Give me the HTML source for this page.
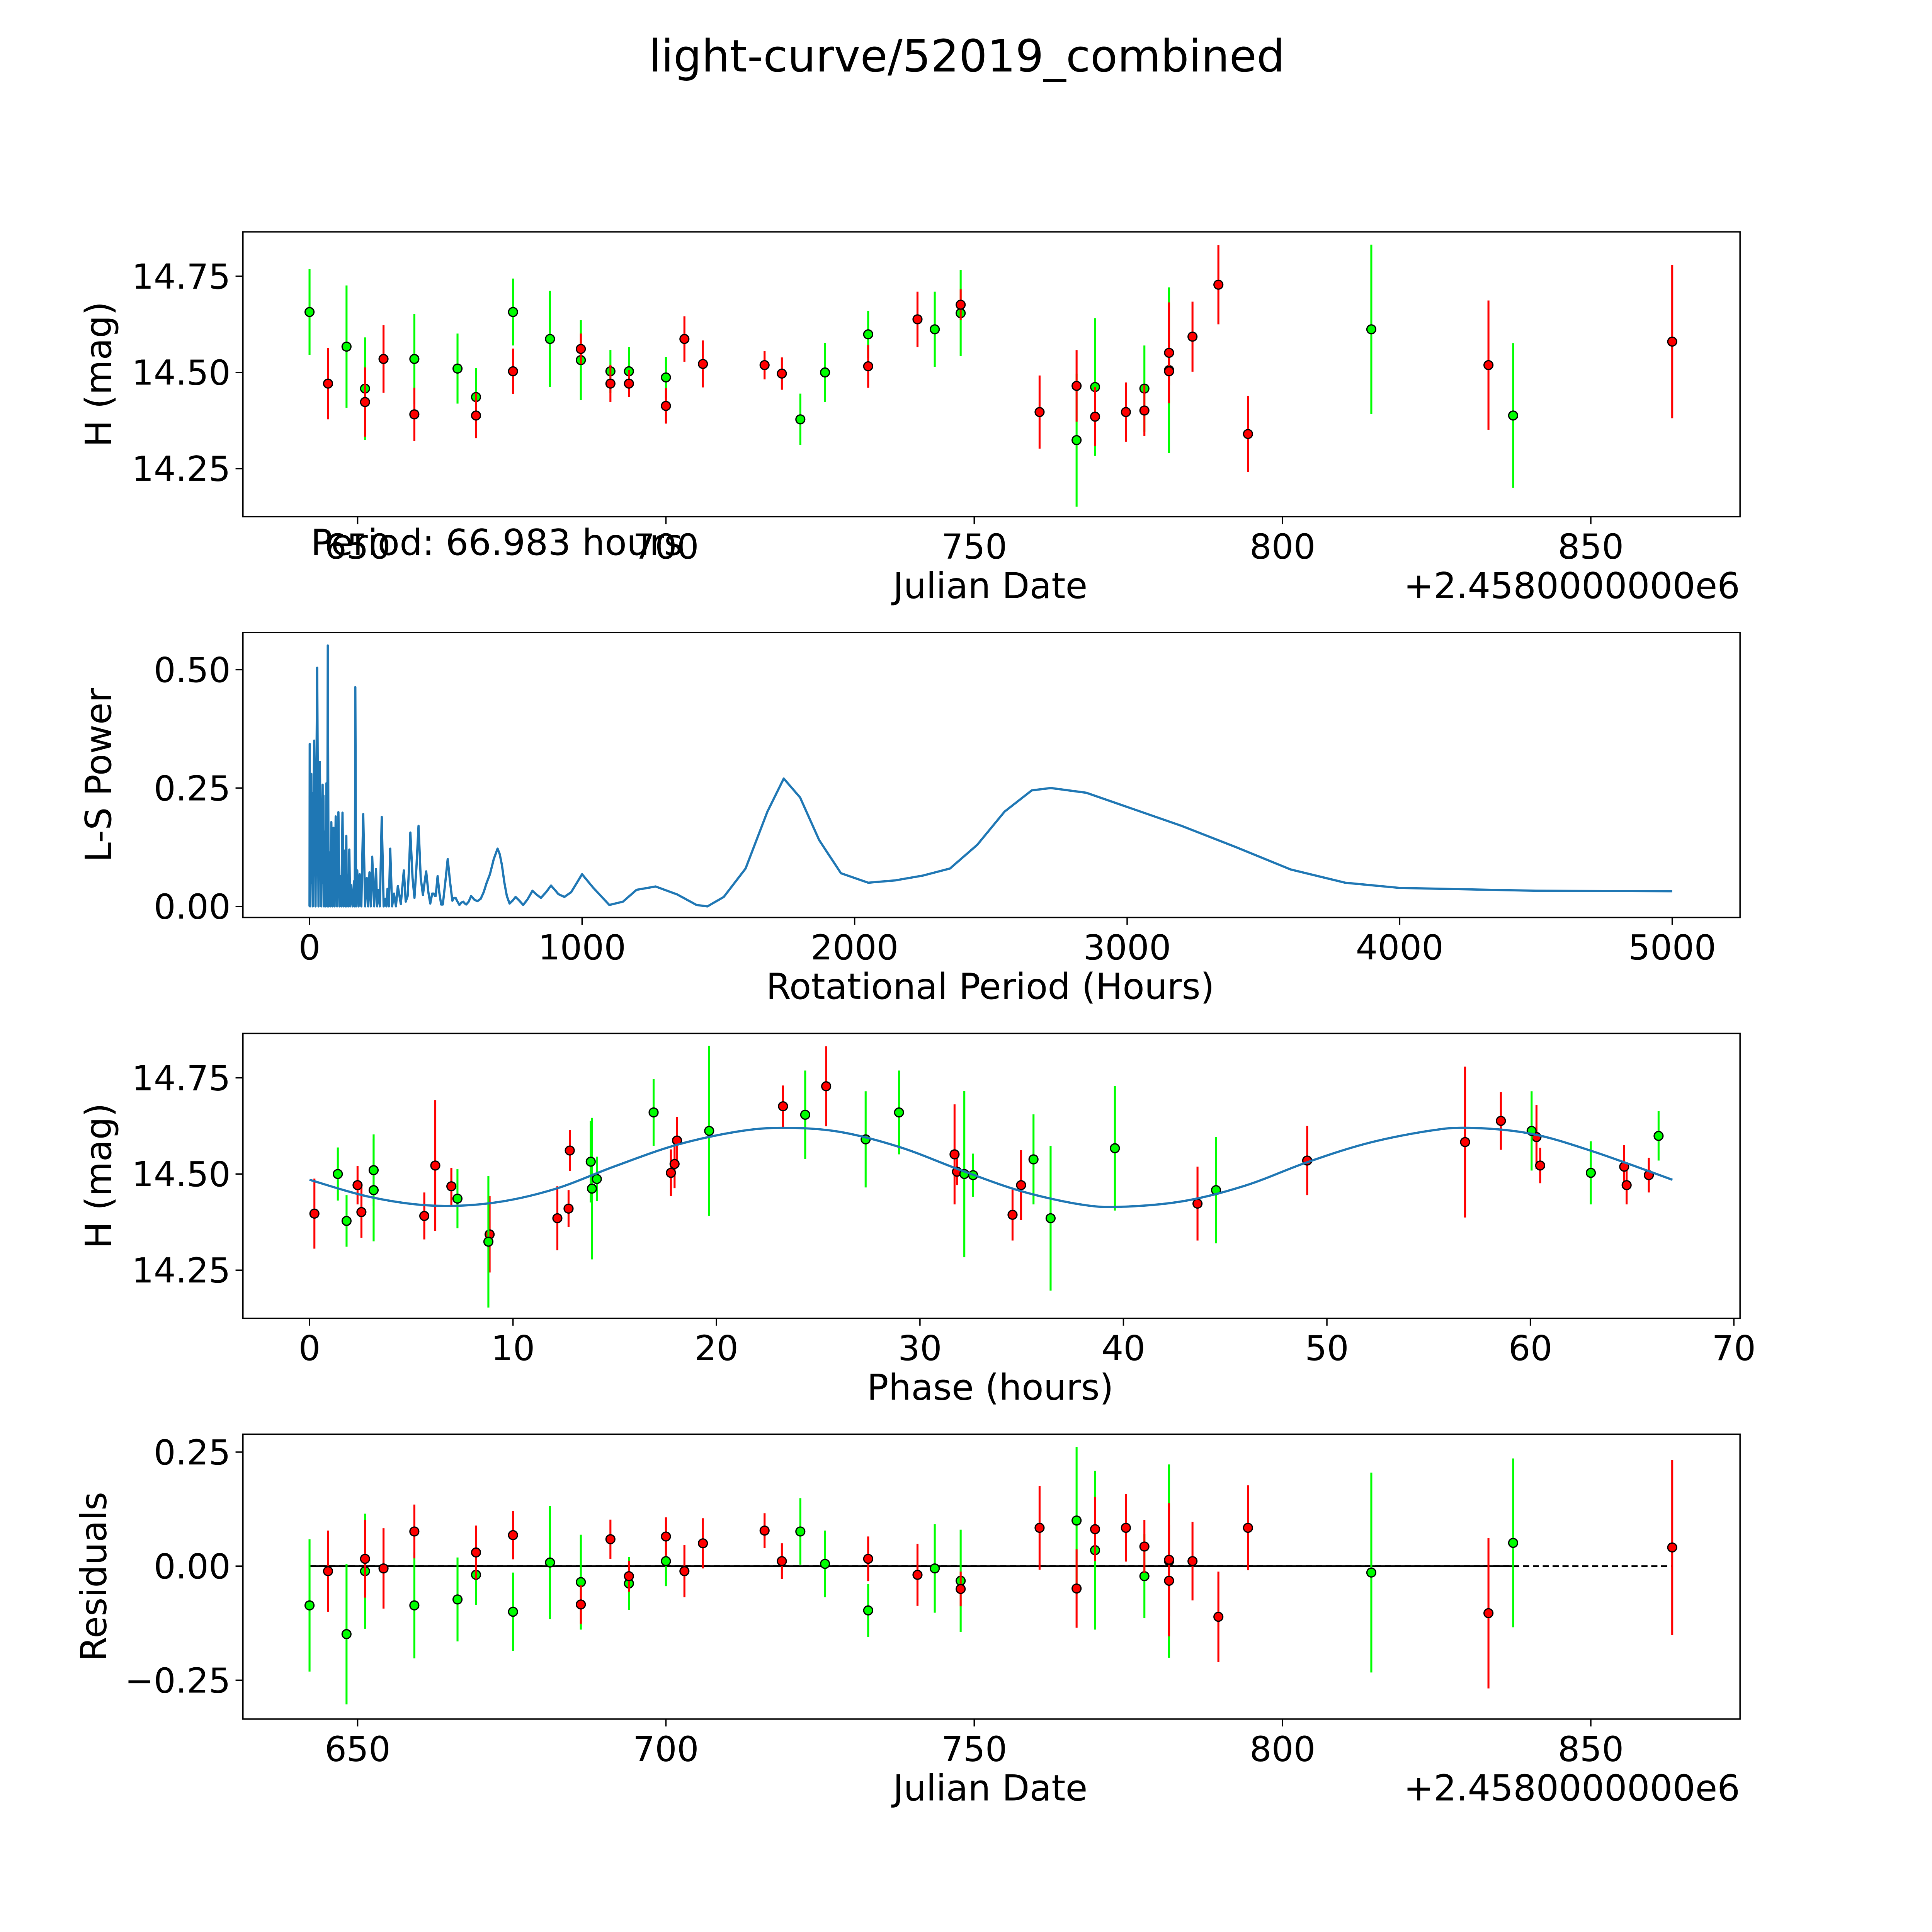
<!DOCTYPE html>
<html><head><meta charset="utf-8">
<style>
html,body{margin:0;padding:0;background:#fff;width:5400px;height:5400px;overflow:hidden;}
svg{display:block;position:absolute;left:0;top:0;overflow:hidden;}
text{font-family:"DejaVu Sans","Liberation Sans",sans-serif;fill:#000;}
</style></head>
<body>
<svg id="chart" xmlns="http://www.w3.org/2000/svg" width="5400" height="5400" viewBox="0 0 1692 1692">
<rect x="0" y="0" width="1692" height="1692" fill="#fff"/>
</svg>
<script>
// ---------- Panel 1: light curve (Julian date offset from 2458000) ----------
const greenJD  = [642.2,648.2,651.2,659.2,666.2,669.2,675.2,681.2,686.2,691,694,700,721.8,725.8,732.8,743.6,747.8,766.6,769.6,777.6,781.6,814.4,837.4];
const greenMag = [14.657,14.567,14.458,14.535,14.51,14.436,14.657,14.587,14.532,14.503,14.503,14.487,14.378,14.50,14.599,14.612,14.654,14.324,14.462,14.458,14.506,14.612,14.388];
const greenErr = [0.112,0.159,0.133,0.117,0.091,0.075,0.087,0.125,0.104,0.056,0.063,0.053,0.067,0.077,0.061,0.098,0.112,0.173,0.179,0.112,0.215,0.22,0.188];
const redJD  = [645.2,651.2,654.2,659.2,669.2,675.2,686.2,691,694,700,703,706,716,718.8,732.8,740.8,747.8,760.6,766.6,769.6,774.6,777.6,781.6,781.6,785.4,789.6,794.4,833.4,863.2];
const redMag = [14.471,14.423,14.535,14.391,14.388,14.503,14.561,14.471,14.471,14.413,14.587,14.522,14.519,14.497,14.516,14.638,14.676,14.397,14.465,14.385,14.397,14.401,14.551,14.503,14.593,14.728,14.34,14.519,14.58];
const redErr = [0.093,0.09,0.088,0.069,0.059,0.059,0.04,0.048,0.035,0.046,0.059,0.061,0.037,0.042,0.056,0.072,0.04,0.095,0.093,0.077,0.077,0.066,0.131,0.035,0.091,0.103,0.099,0.168,0.199];

// ---------- Panel 2: periodogram ----------
const lsPeriod = [0,0.7,2,4,6.6,7.5,8.4,12,17,22,28,33,38,43,48,49.5,51,53,55,58,62,65,67,70,73,76,80,84,88,92,96,101,106,110,114,117,121,125,130,132,135,137,139,142,146,149,152,158,163,166,168,171,175,180,184,190,197,204,210,215,220,225,230,237,244,248,252,258,265,272,279,282,286,291,296,303,310,317,324,335,346,353,360,365,370,378,385,392,400,408,416,422,428,436,443,450,456,460,463,470,476,483,489,498,507,516,524,530,536,543,550,557,564,570,575,584,593,605,616,628,639,650,662,676,690,698,706,715,724,734,745,756,770,784,800,818,833,849,868,886,900,913,935,960,1000,1040,1100,1150,1200,1270,1350,1420,1460,1520,1600,1680,1740,1800,1870,1950,2050,2150,2250,2350,2450,2550,2650,2720,2850,3000,3200,3400,3600,3800,4000,4500,5000];
const lsPower  = [0,0.343,0,0.1,0.28,0.05,0.24,0,0.35,0,0.504,0,0.305,0,0.257,0.05,0.234,0,0.158,0,0.26,0,0.551,0,0.114,0,0.178,0,0.166,0,0.19,0,0.199,0,0.064,0,0.198,0,0.118,0,0.149,0,0.029,0,0.12,0,0.045,0,0.053,0,0.463,0,0.076,0,0.068,0,0.195,0,0.06,0,0.072,0,0.105,0,0.079,0,0.035,0,0.189,0,0.016,0,0.037,0,0.122,0,0.027,0,0.043,0.005,0.076,0.01,0.022,0.08,0.156,0.06,0.018,0.08,0.17,0.06,0.024,0.05,0.074,0.03,0.006,0.027,0.027,0.022,0.022,0.064,0.03,0.004,0.004,0.05,0.1,0.05,0.012,0.018,0.018,0.01,0.003,0.008,0.01,0.006,0.004,0.01,0.022,0.014,0.011,0.016,0.03,0.05,0.068,0.1,0.122,0.11,0.087,0.05,0.022,0.006,0.012,0.02,0.012,0.003,0.015,0.033,0.025,0.018,0.03,0.044,0.035,0.026,0.02,0.03,0.068,0.04,0.003,0.01,0.035,0.042,0.025,0.003,0.0,0.02,0.08,0.2,0.27,0.23,0.14,0.07,0.05,0.055,0.065,0.08,0.13,0.2,0.245,0.25,0.24,0.21,0.17,0.125,0.078,0.05,0.039,0.033,0.032];

// ---------- Panel 3: phased light curve ----------
const redPhase = [0.24,2.36,2.55,5.64,6.18,6.97,8.85,12.18,12.73,12.79,17.76,17.94,18.06,23.27,25.39,31.7,31.82,34.55,34.97,43.64,49.03,56.79,58.55,60.3,60.48,64.61,64.73,65.82];
const redPhaseMag = [14.397,14.471,14.401,14.391,14.522,14.468,14.343,14.385,14.41,14.561,14.503,14.526,14.587,14.676,14.728,14.551,14.506,14.394,14.471,14.423,14.535,14.583,14.638,14.596,14.522,14.519,14.471,14.497];
const redPhaseErr = [0.091,0.05,0.067,0.061,0.17,0.048,0.099,0.083,0.048,0.053,0.061,0.063,0.061,0.054,0.104,0.13,0.035,0.067,0.091,0.096,0.09,0.196,0.075,0.083,0.046,0.056,0.05,0.045];
const greenPhase = [1.39,1.82,3.15,3.15,7.27,8.79,13.82,13.88,14.12,16.91,19.64,24.36,27.33,28.97,32.18,32.61,35.58,36.42,39.58,44.55,60.06,62.97,66.3];
const greenPhaseMag = [14.50,14.378,14.51,14.458,14.436,14.324,14.532,14.462,14.487,14.66,14.612,14.654,14.59,14.66,14.50,14.497,14.538,14.385,14.567,14.458,14.612,14.503,14.599];
const greenPhaseErr = [0.069,0.067,0.093,0.133,0.077,0.171,0.106,0.184,0.058,0.087,0.221,0.115,0.125,0.109,0.216,0.056,0.117,0.188,0.162,0.138,0.103,0.082,0.064];
const modelPhase = [0,3,6,9,12,15,18,21,23.3,26,29,32,35,38,40,43,46,49,52,55,57,60,63,66.98];
const modelMag   = [14.485,14.44,14.418,14.425,14.46,14.52,14.575,14.61,14.62,14.61,14.57,14.51,14.455,14.42,14.415,14.43,14.47,14.53,14.58,14.612,14.62,14.605,14.56,14.485];

// ---------- Panel 4: residuals ----------
const greenResJD  = [642.2,648.2,651.2,659.2,666.2,669.2,675.2,681.2,686.2,694,700,721.8,725.8,732.8,743.6,747.8,766.6,769.6,777.6,781.6,814.4,837.4];
const greenRes    = [-0.086,-0.149,-0.011,-0.086,-0.073,-0.019,-0.1,0.008,-0.035,-0.038,0.011,0.076,0.005,-0.097,-0.005,-0.032,0.1,0.035,-0.022,0.011,-0.014,0.051];
const greenResErr = [0.145,0.154,0.126,0.116,0.092,0.066,0.086,0.124,0.104,0.058,0.055,0.073,0.073,0.058,0.097,0.112,0.161,0.174,0.092,0.212,0.219,0.185];
const redResJD  = [645.2,651.2,654.2,659.2,669.2,675.2,686.2,691,694,700,703,706,716,718.8,732.8,740.8,747.8,760.6,766.6,769.6,774.6,777.6,781.6,781.6,785.4,789.6,794.4,833.4,863.2];
const redRes    = [-0.011,0.016,-0.005,0.076,0.03,0.068,-0.084,0.059,-0.022,0.065,-0.011,0.05,0.078,0.011,0.016,-0.019,-0.05,0.084,-0.049,0.081,0.084,0.043,0.014,-0.032,0.011,-0.111,0.084,-0.103,0.041];
const redResErr = [0.089,0.085,0.088,0.059,0.059,0.053,0.042,0.043,0.034,0.042,0.057,0.055,0.038,0.039,0.049,0.068,0.038,0.092,0.086,0.07,0.074,0.058,0.124,0.122,0.086,0.099,0.093,0.165,0.192];

// tick label arrays
const jdTicks = [650,700,750,800,850];
const magTicks = [14.25,14.50,14.75];
const magTickLabels = ["14.25","14.50","14.75"];
const periodTicks = [0,1000,2000,3000,4000,5000];
const powerTicks = [0,0.25,0.5];
const powerTickLabels = ["0.00","0.25","0.50"];
const phaseTicks = [0,10,20,30,40,50,60,70];
const resTicks = [-0.25,0,0.25];
const resTickLabels = ["\u22120.25","0.00","0.25"];

const NS = "http://www.w3.org/2000/svg";
const svg = document.getElementById('chart');
const L = 197, R = 1411, H = 231;
const tops = [188, 513, 838, 1163];
function el(tag, attrs, parent){ const e=document.createElementNS(NS,tag); for(const k in attrs) e.setAttribute(k,attrs[k]); (parent||svg).appendChild(e); return e; }

const xJD = j => 290 + (j-650)*5;
const xPer = p => 251 + p*0.221;
const xPh = p => 251 + p*16.5;
const yMag1 = m => 302 - (m-14.5)*312;
const yPow = v => 735 - v*384;
const yMag3 = m => 952 - (m-14.5)*312;
const yRes = r => 1270 - r*370;

function txt(s, x, y, size, anchor, parent){
  const t = el('text', {x:x, y:y, 'font-size':size, 'text-anchor':anchor||'middle'}, parent);
  t.textContent = s; return t;
}

function axesFrame(i, name){
  const g = el('g', {});
  
  
  const r = el('rect', {x:L, y:tops[i], width:R-L, height:H, fill:'none', stroke:'#000', 'stroke-width':1.1}, g);
  
  
  return g;
}
function xTicks(g, vals, fx, labels, bottom){
  vals.forEach((v,k)=>{
    const x = fx(v);
    const l = el('line', {x1:x, x2:x, y1:bottom, y2:bottom+6, stroke:'#000', 'stroke-width':1.1}, g);
    
    
    const t = txt(labels[k], x, bottom+34, 28, 'middle', g);
    
    
  });
}
function yTicks(g, vals, fy, labels){
  vals.forEach((v,k)=>{
    const y = fy(v);
    const l = el('line', {x1:L-6, x2:L, y1:y, y2:y, stroke:'#000', 'stroke-width':1.1}, g);
    
    
    const t = txt(labels[k], L-10, y+10, 28, 'end', g);
    
    
  });
}
function yLabel(g, s, cx, cy, name){
  const t = el('text', {x:0, y:0, 'font-size':29, 'text-anchor':'middle', transform:`translate(${cx},${cy}) rotate(-90)`}, g);
  t.textContent = s;
  
  
}
function points(g, xs, ys, errs, fx, fy, color, name){
  const eg = el('g', {}, g);
  
  
  xs.forEach((xv,k)=>{
    const x = fx(xv);
    const ln = el('line', {x1:x, x2:x, y1:fy(ys[k]+errs[k]), y2:fy(ys[k]-errs[k]), stroke:color, 'stroke-width':1.6}, eg);
    
    
  });
  const pg = el('g', {}, g);
  
  
  xs.forEach((xv,k)=>{
    const c = el('circle', {cx:fx(xv), cy:fy(ys[k]), r:3.6, fill:color, stroke:'#000', 'stroke-width':1}, pg);
    
    
  });
}

const title = txt('light-curve/52019_combined', 784, 58, 36, 'middle');



// ---- Panel 1
const g1 = axesFrame(0, 'light-curve-panel');
points(g1, greenJD, greenMag, greenErr, xJD, yMag1, '#00ff00', 'green-band');
points(g1, redJD, redMag, redErr, xJD, yMag1, '#ff0000', 'red-band');
xTicks(g1, jdTicks, xJD, jdTicks.map(String), tops[0]+H);
yTicks(g1, magTicks, yMag1, magTickLabels);
yLabel(g1, 'H (mag)', 90, tops[0]+H/2, 'y-axis-title');
let t;
t = txt('Julian Date', 803, 485, 29, 'middle', g1);  
t = txt('+2.4580000000e6', 1411, 485, 29, 'end', g1);  
t = txt('Period: 66.983 hours', 252, 450, 29, 'start', g1);  

// ---- Panel 2
const g2 = axesFrame(1, 'periodogram-panel');
const pts = lsPeriod.map((p,k)=>xPer(p).toFixed(2)+','+yPow(lsPower[k]).toFixed(2)).join(' ');
const pl = el('polyline', {points:pts, fill:'none', stroke:'#1f77b4', 'stroke-width':1.8, 'stroke-linejoin':'round'}, g2);


xTicks(g2, periodTicks, xPer, periodTicks.map(String), tops[1]+H);
yTicks(g2, powerTicks, yPow, powerTickLabels);
yLabel(g2, 'L-S Power', 90, tops[1]+H/2, 'y-axis-title');
t = txt('Rotational Period (Hours)', 803, 810, 29, 'middle', g2);  

// ---- Panel 3
const g3 = axesFrame(2, 'phased-curve-panel');
points(g3, redPhase, redPhaseMag, redPhaseErr, xPh, yMag3, '#ff0000', 'red-band');
points(g3, greenPhase, greenPhaseMag, greenPhaseErr, xPh, yMag3, '#00ff00', 'green-band');
(function(){
  const P = modelPhase.map((p,k)=>[xPh(p), yMag3(modelMag[k])]);
  let d = 'M'+P[0][0]+','+P[0][1];
  for(let i=0;i<P.length-1;i++){
    const p0=P[Math.max(0,i-1)], p1=P[i], p2=P[i+1], p3=P[Math.min(P.length-1,i+2)];
    const c1=[p1[0]+(p2[0]-p0[0])/6, p1[1]+(p2[1]-p0[1])/6];
    const c2=[p2[0]-(p3[0]-p1[0])/6, p2[1]-(p3[1]-p1[1])/6];
    d += ` C${c1[0]},${c1[1]} ${c2[0]},${c2[1]} ${p2[0]},${p2[1]}`;
  }
  const path = el('path', {d:d, fill:'none', stroke:'#1f77b4', 'stroke-width':1.8}, g3);
  
  
})();
xTicks(g3, phaseTicks, xPh, phaseTicks.map(String), tops[2]+H);
yTicks(g3, magTicks, yMag3, magTickLabels);
yLabel(g3, 'H (mag)', 90, tops[2]+H/2, 'y-axis-title');
t = txt('Phase (hours)', 803, 1135, 29, 'middle', g3);  

// ---- Panel 4
const g4 = axesFrame(3, 'residuals-panel');
const dl = el('line', {x1:xJD(642.2), x2:xJD(863.2), y1:yRes(0), y2:yRes(0), stroke:'#000', 'stroke-width':1.3, 'stroke-dasharray':'5,3'}, g4);


const sl = el('line', {x1:xJD(642.2), x2:xJD(837.4), y1:yRes(0), y2:yRes(0), stroke:'#000', 'stroke-width':1.3}, g4);


points(g4, greenResJD, greenRes, greenResErr, xJD, yRes, '#00ff00', 'green-band');
points(g4, redResJD, redRes, redResErr, xJD, yRes, '#ff0000', 'red-band');
xTicks(g4, jdTicks, xJD, jdTicks.map(String), tops[3]+H);
yTicks(g4, resTicks, yRes, resTickLabels);
yLabel(g4, 'Residuals', 86, tops[3]+H/2, 'y-axis-title');
t = txt('Julian Date', 803, 1460, 29, 'middle', g4);  
t = txt('+2.4580000000e6', 1411, 1460, 29, 'end', g4);  
</script>
</body></html>
